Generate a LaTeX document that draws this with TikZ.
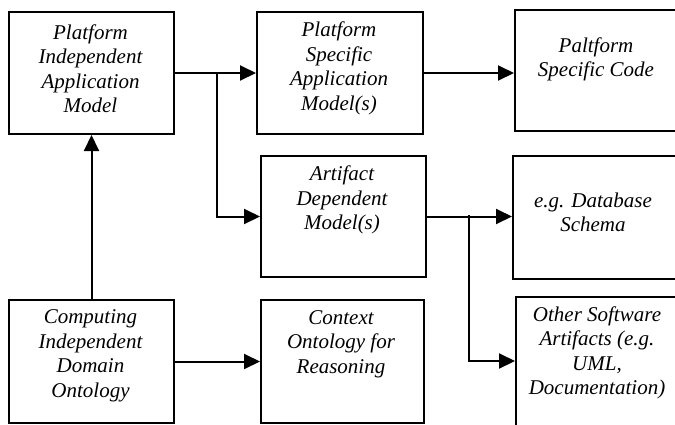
\documentclass[tikz,border=0pt]{standalone}
\usepackage{fontspec}
\setmainfont{Liberation Serif}
\usetikzlibrary{arrows.meta}
\begin{document}
\begin{tikzpicture}[x=1pt,y=-1pt,
  box/.style={draw, line width=2pt, anchor=north west, inner sep=0pt},
  lbl/.style={align=center, inner sep=0pt, font=\itshape\fontsize{21}{24.5}\selectfont},
  conn/.style={line width=2pt, -{Triangle[length=16pt,width=15pt]}}]
  \useasboundingbox (0,0) rectangle (675,424);
  \clip (0,0) rectangle (675,424);

  % boxes
  \node[box, minimum width=165pt, minimum height=122pt] (pim) at (8,11) {};
  \node[box, minimum width=166pt, minimum height=122pt] (psm) at (256,11) {};
  \node[box, minimum width=170pt, minimum height=121pt] (psc) at (514,9) {};
  \node[box, minimum width=165pt, minimum height=121pt] (adm) at (260,155) {};
  \node[box, minimum width=172pt, minimum height=123pt] (dbs) at (512,155) {};
  \node[box, minimum width=165pt, minimum height=123pt] (cido) at (8,299) {};
  \node[box, minimum width=163pt, minimum height=123pt] (ctx) at (260,299) {};
  \node[box, minimum width=170pt, minimum height=140pt] (oth) at (515,296) {};

  % labels
  \node[lbl] (pimT) at (90.5,68.5) {Platform\\Independent\\Application\\Model};
  \node[lbl] (psmT) at (339,68.5) {Platform\\Specific\\Application\\Model(s)};
  \node[lbl] (pscT) at (596,59.5) {Paltform\\Specific Code};
  \node[lbl] (admT) at (342,200) {Artifact\\Dependent\\Model(s)};
  \node[lbl] (dbsT) at (593,212.5) {e.g. Database\\Schema};
  \node[lbl] (cidoT) at (90.5,356) {Computing\\Independent\\Domain\\Ontology};
  \node[lbl] (ctxT) at (341,344) {Context\\Ontology for\\Reasoning};
  \node[lbl] (othT) at (597,353) {Other Software\\Artifacts (e.g.\\UML,\\Documentation)};

  % branch points
  \coordinate (split1) at (217,72);
  \coordinate (split2) at (469,215);
  \coordinate (othIn) at (515,361);

  % connectors
  \draw[conn] (pim.east) -- (psm.west);
  \draw[conn] (split1) |- (adm.west);
  \draw[conn] (psm.east) -- (psc.west |- psm.east);
  \draw[conn] (adm.east) -- (dbs.west |- adm.east);
  \draw[conn] (split2) |- (othIn);
  \draw[conn] (cido.north) -- (pim.south);
  \draw[conn] (cido.east) -- (ctx.west);
\end{tikzpicture}
\end{document}
